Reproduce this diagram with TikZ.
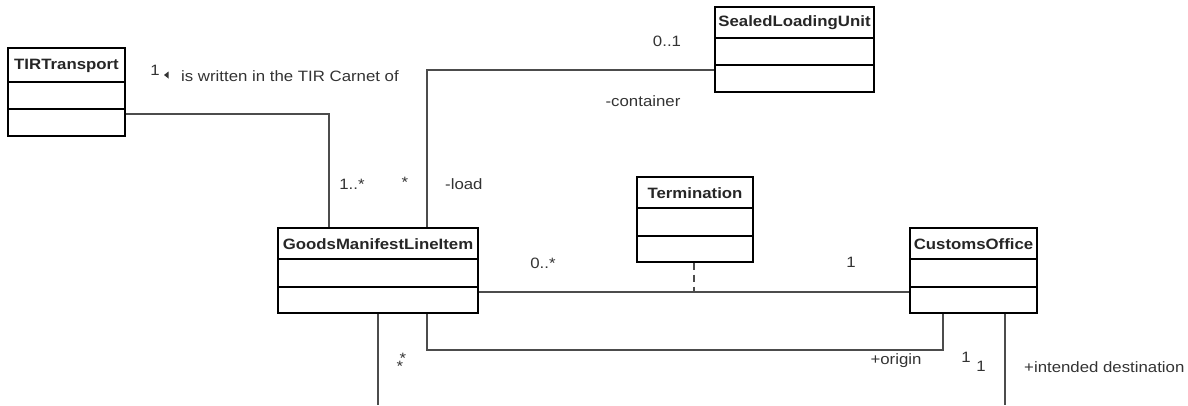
\documentclass[tikz,border=0pt]{standalone}
\usepackage{fontspec}
\setmainfont[FakeStretch=1.12]{Liberation Sans}
\begin{document}
\begin{tikzpicture}[x=1pt,y=-1pt,
  box/.style={draw=black,line width=1.4pt,inner sep=0pt,fill=white},
  boxthick/.style={draw=black,line width=2pt,inner sep=0pt,fill=white},
  divider/.style={draw=black,line width=1.3pt},
  title/.style={font=\fontsize{15}{15}\selectfont\bfseries,text=black!85,inner sep=0pt},
  conn/.style={draw=black!70,line width=1.3pt},
  dashconn/.style={draw=black!70,line width=1.3pt,dash pattern=on 7pt off 5pt},
  lbl/.style={font=\fontsize{15}{15}\selectfont,text=black!80,inner sep=0pt}]
\useasboundingbox (0,0) rectangle (1188,405);
\newcommand{\umlclass}[9]{%
  % #1 name, #2 style, #3 x1, #4 x2, #5 y1, #6 y2, #7 y3, #8 y4, #9 title
  \node[#2,minimum width={#4-#3},minimum height={#8-#5}] (#1) at ({(#3+#4)/2},{(#5+#8)/2}) {};
  \node[title] (#1-t) at ({(#3+#4)/2},{(#5+#6)/2+0.5}) {#9};
  \draw[divider] (#3,#6) -- (#4,#6);
  \draw[divider] (#3,#7) -- (#4,#7);
}
\coordinate (gmlbot) at (378,405);
\coordinate (cobot) at (1005,405);
\umlclass{tir}{box}{8}{125}{48}{82}{109}{136}{TIRTransport}
\umlclass{slu}{box}{715}{874}{7}{38}{65}{92}{SealedLoadingUnit}
\umlclass{gml}{boxthick}{278}{478}{228}{259}{287}{313}{GoodsManifestLineItem}
\umlclass{term}{box}{637}{753}{177}{208}{236}{262}{Termination}
\umlclass{co}{box}{910}{1037}{228}{259}{287}{313}{CustomsOffice}

\draw[conn] (tir.east |- 0,114) -| (gml.north -| 329,0);
\draw[conn] (gml.north -| 427,0) |- (slu.west |- 0,70);
\draw[conn] (gml.east |- 0,292) -- (co.west |- 0,292);
\draw[dashconn] (term.south -| 694,0) -- (694,292);
\draw[conn] (gml.south -| 427,0) |- (943,350) -- (co.south -| 943,0);
\draw[conn] (gml.south -| 378,0) -- (gmlbot);
\draw[conn] (co.south -| 1005,0) -- (cobot);

% labels
\node[lbl] (l1) at (155,70) {1};
\fill[black!80] (164,75) -- (168.5,71.5) -- (168.5,78.5) -- cycle;
\node[lbl,anchor=west] (l2) at (181,76) {is written in the TIR Carnet of};
\node[lbl] (l3) at (352,184) {1..*};
\node[lbl] (l4) at (405,182) {*};
\node[lbl,anchor=west] (l5) at (445,184) {-load};
\node[lbl] (l6) at (667,41) {0..1};
\node[lbl] (l7) at (643,101) {-container};
\node[lbl] (l8) at (543,263) {0..*};
\node[lbl] (l9) at (851,262) {1};
\node[lbl] (l10) at (896,361) {+origin};
\node[lbl] (l11) at (966,357) {1};
\node[lbl] (l12) at (981,366) {1};
\node[lbl,anchor=west] (l13) at (1024,367) {+intended destination};
\node[lbl] (l14) at (403,358) {*};
\node[lbl] (l15) at (400,366) {*};
\end{tikzpicture}
\end{document}
